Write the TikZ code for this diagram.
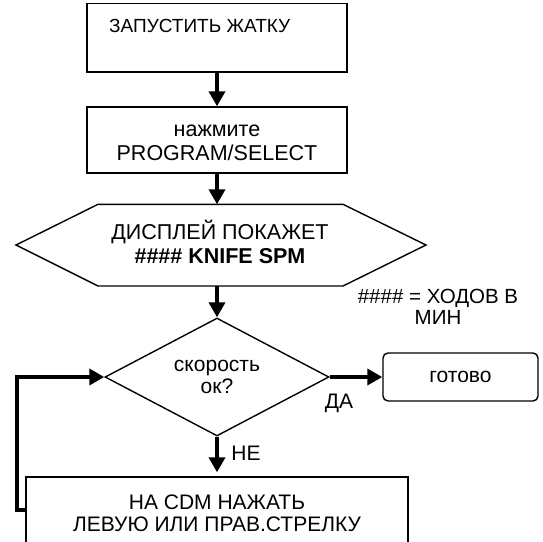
\documentclass[tikz,border=0pt]{standalone}
\usepackage{fontspec}
\setmainfont{Liberation Sans}
\usetikzlibrary{shapes.geometric,arrows.meta}
\begin{document}
\begin{tikzpicture}[x=1pt,y=-1pt,
  box/.style={draw,line width=1.4pt,inner sep=0pt},
  arr/.style={line width=4.2pt,-{Triangle[width=16pt,length=15pt]}},
  fb/.style={font=\fontsize{21.5}{23.5}\selectfont,align=center},
  fm/.style={font=\fontsize{21}{22}\selectfont,align=center},
  fs/.style={font=\fontsize{19}{23}\selectfont,align=center}]
\clip (0,0) rectangle (543,541);
\node[box,minimum width=260pt,minimum height=68.5pt] (start) at (217,37.75) {};
\node[fs,anchor=west,inner sep=0pt] (starttxt) at (109,26) {ЗАПУСТИТЬ ЖАТКУ};
\node[box,minimum width=260pt,minimum height=66pt] (press) at (217,140) {};
\node[fb,inner sep=0pt] (presstxt) at (217,143) {нажмите\\PROGRAM/SELECT};
\node[fb,inner sep=0pt] (disp) at (220,242) {ДИСПЛЕЙ ПОКАЖЕТ\\\textbf{\#\#\#\# KNIFE SPM}};
\draw[line width=1.4pt] (16,245) -- (98,204.3) -- (343,204.3) -- (426,245) -- (343,286) -- (98,286) -- cycle;
\coordinate (dispN) at (217,204.3);
\coordinate (dispS) at (217,286);
\node[box,diamond,aspect=1.9,minimum width=224pt,minimum height=118pt] (dec) at (217,377) {};
\node[fm,inner sep=0pt] (dectxt) at (217,377) {скорость\\ок?};
\node[box,rounded corners=5pt,minimum width=155pt,minimum height=48pt,fm] (done) at (460.5,377) {готово};
\node[box,fm,minimum width=382pt,minimum height=72pt] (adj) at (217,513) {НА CDM НАЖАТЬ\\ЛЕВУЮ ИЛИ ПРАВ.СТРЕЛКУ};
\draw[arr] (start.south) -- (press.north);
\draw[arr] (press.south) -- (dispN);
\draw[arr] (dispS) -- (dec.north);
\draw[arr] (dec.east) -- (done.west);
\draw[arr,shorten >=4pt] (dec.south) -- (adj.north);
\draw[arr] ([yshift=3pt]adj.west) -- ++(-8,0) |- (dec.west);
\node[fm,inner sep=0pt] (yes) at (339,403) {ДА};
\node[fm,inner sep=0pt] (no) at (246,453) {НЕ};
\node[font=\fontsize{20.5}{20.5}\selectfont,align=center,inner sep=0pt] (note) at (438,307) {\#\#\#\# = ХОДОВ В\\МИН};
\end{tikzpicture}
\end{document}
